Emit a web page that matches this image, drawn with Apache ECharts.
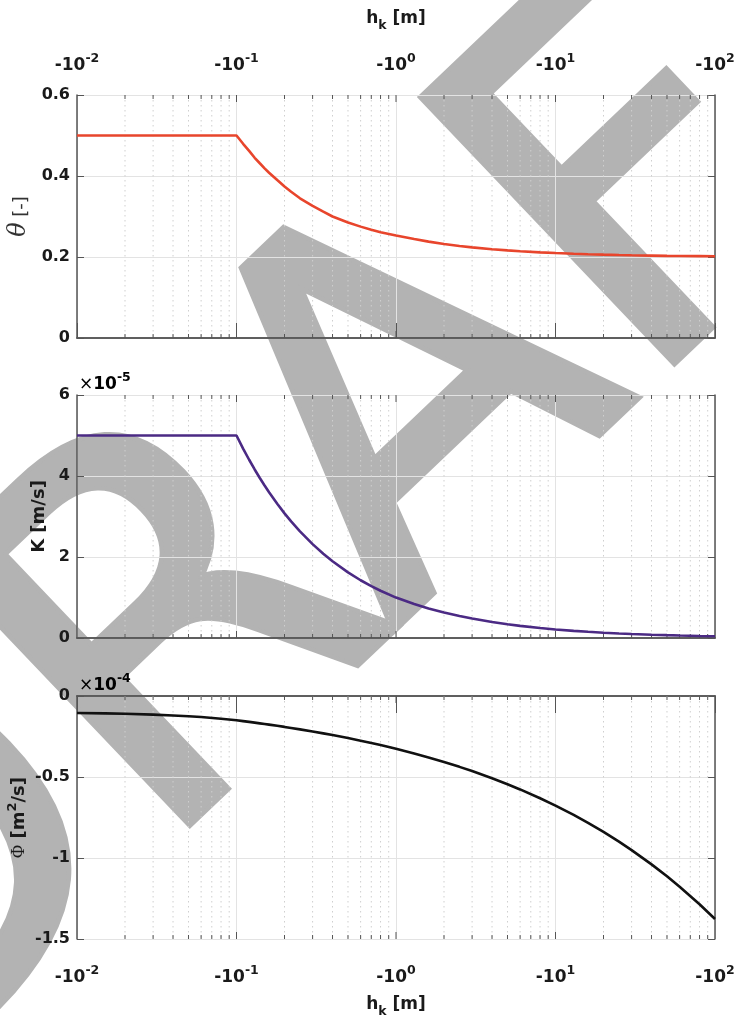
<!DOCTYPE html>
<html><head><meta charset="utf-8">
<script src="https://cdn.jsdelivr.net/npm/echarts@6/dist/echarts.min.js"></script>
<style>html,body{margin:0;padding:0;background:#fff}#c{width:740px;height:1019px}</style>
</head><body><div id="c"></div>
<script>
// pressure head h_k [m]
const H = [-0.01,-0.015,-0.02,-0.03,-0.04,-0.05,-0.06,-0.08,-0.1,
  -0.11,-0.12,-0.13,-0.14,-0.15,-0.16,-0.18,-0.2,-0.22,-0.25,-0.3,-0.35,-0.4,-0.5,-0.6,-0.7,-0.8,-1,
  -1.3,-1.6,-2,-2.5,-3,-4,-5,-6,-8,-10,-13,-16,-20,-25,-30,-40,-50,-60,-80,-100];
// water content theta [-]
const THETA = [0.5,0.5,0.5,0.5,0.5,0.5,0.5,0.5,0.5,
  0.4795,0.4619,0.445,0.4315,0.419,0.408,0.390,0.374,0.361,0.345,0.326,0.312,0.300,0.285,0.275,0.267,0.261,0.253,
  0.2444,0.2380,0.2322,0.2273,0.2238,0.2192,0.2163,0.2142,0.2115,0.2097,0.2080,0.2068,0.2058,0.2049,0.2043,0.2035,0.2029,0.2026,0.2021,0.2017];
// hydraulic conductivity K [x1e-5 m/s]
const K = [5,5,5,5,5,5,5,5,5,
  4.678,4.401,4.161,3.951,3.764,3.598,3.314,3.078,2.879,2.633,2.318,2.080,1.894,1.621,1.426,1.281,1.166,0.998,
  0.84,0.73,0.63,0.545,0.48,0.395,0.34,0.30,0.245,0.21,0.177,0.153,0.13,0.112,0.099,0.081,0.07,0.062,0.05,0.043];
// matric flux potential Phi [x1e-4 m2/s]
const PHI = [-0.105,-0.1075,-0.110,-0.115,-0.120,-0.125,-0.130,-0.140,-0.150,
  -0.1551,-0.1599,-0.1645,-0.1688,-0.1728,-0.1768,-0.1841,-0.1908,-0.1972,-0.2059,-0.2189,-0.2306,-0.2411,-0.2597,-0.2757,-0.2901,-0.3030,-0.3258,
  -0.3547,-0.3792,-0.4073,-0.4374,-0.4634,-0.5076,-0.5446,-0.5767,-0.6311,-0.6767,-0.7342,-0.7832,-0.8392,-0.8992,-0.9513,-1.0394,-1.1132,-1.1773,-1.2858,-1.3767];
const X_DECADES = [-2,-1,0,1,2];
const Y_TICKS = [[0,0.2,0.4,0.6],[0,2,4,6],[-1.5,-1,-0.5,0]];
const Y_EXP = ['', '-5', '-4'];

const FONT = '"DejaVu Sans", Verdana, sans-serif';
const AX = '#555555';
const TXT = '#1a1a1a';
const chart = echarts.init(document.getElementById('c'), null, {renderer:'canvas'});

const supRich = {
  b:{fontSize:17,fontWeight:'bold',fontFamily:FONT,color:TXT,verticalAlign:'bottom'},
  s:{fontSize:12.5,fontWeight:'bold',fontFamily:FONT,color:TXT,verticalAlign:'bottom',padding:[0,0,9,0]}
};
function decLabel(v){ const e=Math.round(Math.log10(v)); return '{b|-10}{s|'+e+'}'; }
const hkName = '{h|h}{k|k}{h| [m]}';
const hkRich = {
  h:{fontSize:17,fontWeight:'bold',fontFamily:FONT,color:TXT,verticalAlign:'top'},
  k:{fontSize:12.5,fontWeight:'bold',fontFamily:FONT,color:TXT,verticalAlign:'top',padding:[9,0,0,0]}
};

const grids = [
  {left:77, top:95, width:638, height:243, outerBoundsMode:'none', containLabel:false},
  {left:77, top:395, width:638, height:243, outerBoundsMode:'none', containLabel:false},
  {left:77, top:696, width:638, height:243, outerBoundsMode:'none', containLabel:false}
];
const xAxes = [], yAxes = [], series = [];
for (let g=0; g<3; g++){
  const labelTop = g===0, labelBottom = g===2;
  xAxes.push({ // bottom
    type:'log', logBase:10, min:0.01, max:100, gridIndex:g, position:'bottom',
    axisLine:{show:true,lineStyle:{color:AX,width:1.5}},
    axisTick:{show:labelBottom,inside:false,length:17,lineStyle:{color:AX,width:1}},
    axisLabel:{show:labelBottom,formatter:decLabel,rich:supRich,margin:25},
    splitLine:{show:true,lineStyle:{color:'#e3e3e3',width:1}},
    minorTick:{show:false}, minorSplitLine:{show:false},
    name: labelBottom ? hkName : '', nameLocation:'middle', nameGap:57,
    nameTextStyle:{rich:hkRich}
  });
  xAxes.push({ // top
    type:'log', logBase:10, min:0.01, max:100, gridIndex:g, position:'top',
    axisLine:{show:true,lineStyle:{color:AX,width:1.5}},
    axisTick:{show:labelTop,inside:false,length:15,lineStyle:{color:AX,width:1}},
    axisLabel:{show:labelTop,formatter:decLabel,rich:supRich,margin:21},
    splitLine:{show:false},
    name: labelTop ? hkName : '', nameLocation:'middle', nameGap:63,
    nameTextStyle:{rich:hkRich}
  });
  const yt = Y_TICKS[g];
  const names = [
    '{t|θ}{n| [-]}',
    '{n|K [m/s]}',
    '{p|Φ}{n| [m}{s|2}{n|/s]}'
  ];
  const gaps = [36, 22, 49];
  const yAx = {
    type:'value', gridIndex:g, position:'left', min:yt[0], max:yt[yt.length-1], interval:yt[1]-yt[0],
    axisLine:{show:true,lineStyle:{color:AX,width:1.5}},
    axisTick:{show:true,inside:true,length:7,lineStyle:{color:AX,width:1}},
    axisLabel:{fontSize:16,fontWeight:'bold',fontFamily:FONT,color:TXT,margin:7},
    splitLine:{show:true,lineStyle:{color:'#e3e3e3',width:1}},
    name:names[g], nameLocation:'middle', nameRotate:90, nameGap:gaps[g],
    nameTextStyle:{rich:{
      t:{fontSize:24,fontStyle:'italic',fontFamily:'"DejaVu Serif", "Liberation Serif", serif',color:'#333',verticalAlign:'bottom'},
      n:{fontSize:18,fontWeight: g===0 ? 'normal':'bold',fontFamily:FONT,color: g===0 ? '#333':TXT,verticalAlign:'bottom'},
      p:{fontSize:18,fontFamily:'"Liberation Serif", serif',color:TXT,verticalAlign:'bottom'},
      s:{fontSize:13,fontWeight:'bold',fontFamily:FONT,color:TXT,verticalAlign:'bottom',padding:[0,0,9,0]}
    }}
  };
  if (g===2) yAx.nameMoveOverlap = false;
  yAxes.push(yAx);
  yAxes.push({
    type:'value', gridIndex:g, position:'right', min:yt[0], max:yt[yt.length-1], interval:yt[1]-yt[0],
    axisLine:{show:true,lineStyle:{color:AX,width:1.5}},
    axisTick:{show:true,inside:true,length:7,lineStyle:{color:AX,width:1}},
    axisLabel:{show:false}, splitLine:{show:false}
  });
}

// minor grid + inward ticks data (values on the log x scale)
const tickData = [];
for (let d=0; d<X_DECADES.length-1; d++){
  const base = Math.pow(10, X_DECADES[d]);
  if (d>0) tickData.push([base,1]);
  for (let k=2; k<=9; k++) tickData.push([k*base,0]);
}
function renderTicks(params, api){
  const cs = params.coordSys;
  const px = api.coord([api.value(0), 1])[0];
  const major = api.value(1) === 1;
  const top = cs.y, bot = cs.y + cs.height;
  const len = major ? 7 : 4;
  const children = [];
  if (!major) children.push({type:'line', shape:{x1:px,y1:top,x2:px,y2:bot},
    style:{stroke:'#cfcfcf',lineWidth:1,lineDash:[1.5,3.5]}});
  children.push({type:'line', shape:{x1:px,y1:top,x2:px,y2:top+len}, style:{stroke:AX,lineWidth:1}});
  children.push({type:'line', shape:{x1:px,y1:bot-len,x2:px,y2:bot}, style:{stroke:AX,lineWidth:1}});
  return {type:'group', children};
}
const colors = ['#E8452C','#4B2A84','#111111'];
const vals = [THETA, K, PHI];
for (let g=0; g<3; g++){
  series.push({type:'custom', xAxisIndex:2*g, yAxisIndex:2*g, renderItem:renderTicks, data:tickData, z:1, silent:true, clip:false});
  series.push({type:'line', xAxisIndex:2*g, yAxisIndex:2*g, showSymbol:false, symbol:'none', z:3,
    lineStyle:{color:colors[g],width:2.6}, data:H.map((h,i)=>[Math.abs(h), vals[g][i]])});
}

const graphic = [
  {type:'text', x:-214, y:1028, rotation:43.6*Math.PI/180, z:-100,
   style:{text:'DRAFT', font:'500px "DejaVu Sans"', fill:'#b3b3b3', stroke:'#b3b3b3', lineWidth:9, lineJoin:'round', align:'left', verticalAlign:'middle', textAlign:'left', textVerticalAlign:'middle'}}
];
for (let g=1; g<3; g++){
  graphic.push({type:'text', left:79, top:grids[g].top-24, z:10,
    style:{text:'{x|×}{b|10}{s|'+Y_EXP[g]+'}', rich:{
      x:{fontSize:17,fontFamily:FONT,color:'#555',verticalAlign:'bottom'},
      b:{fontSize:17,fontWeight:'bold',fontFamily:FONT,color:TXT,verticalAlign:'bottom'},
      s:{fontSize:12.5,fontWeight:'bold',fontFamily:FONT,color:TXT,verticalAlign:'bottom',padding:[0,0,9,0]}
    }}});
}

chart.setOption({animation:false, backgroundColor:'#ffffff', grid:grids, xAxis:xAxes, yAxis:yAxes, series, graphic});
</script></body></html>
